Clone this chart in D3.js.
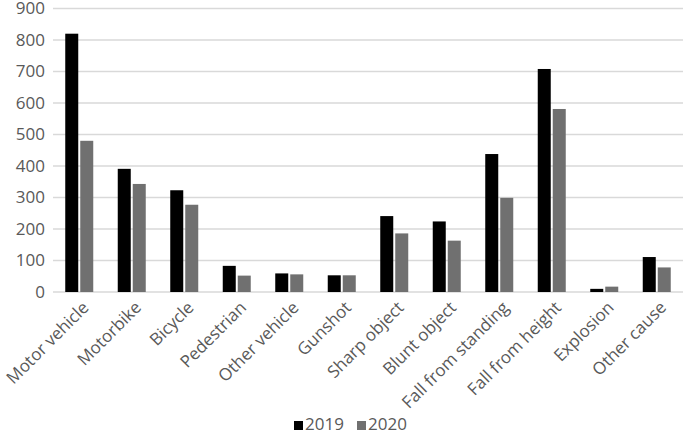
<!DOCTYPE html>
<html>
<head>
<meta charset="utf-8">
<script src="https://cdn.jsdelivr.net/npm/d3@7/dist/d3.min.js"></script>
<style>
  html, body { margin: 0; padding: 0; background: #fff; }
  svg { display: block; }
  text { font-family: "Open Sans", sans-serif; fill: #595959; }
</style>
</head>
<body>
<svg id="chart" width="685" height="433"></svg>
<script>
const categories = ["Motor vehicle", "Motorbike", "Bicycle", "Pedestrian", "Other vehicle", "Gunshot", "Sharp object", "Blunt object", "Fall from standing", "Fall from height", "Explosion", "Other cause"];
const series2019 = [820, 391, 323, 83, 59, 53, 241, 224, 438, 708, 10, 111];
const series2020 = [480, 343, 277, 52, 56, 53, 186, 163, 299, 581, 17, 78];
const yTicks = [0, 100, 200, 300, 400, 500, 600, 700, 800, 900];
const seriesNames = ["2019", "2020"];
const seriesColors = ["#000000", "#707070"];

const svg = d3.select("#chart");
const plot = { left: 53, right: 683, top: 8.5, bottom: 292 };

const x = d3.scaleBand().domain(categories).range([plot.left, plot.right]).padding(0);
const y = d3.scaleLinear().domain([0, 900]).range([plot.bottom, plot.top]);

// gridlines
svg.append("g").selectAll("line").data(yTicks).join("line")
  .attr("x1", plot.left).attr("x2", plot.right)
  .attr("y1", d => y(d)).attr("y2", d => y(d))
  .attr("stroke", "#d9d9d9").attr("stroke-width", 1.5);

// y axis labels
const yAxis = d3.axisLeft(y).tickValues(yTicks).tickSize(0).tickPadding(8);
const gy = svg.append("g").attr("transform", `translate(${plot.left},0)`).call(yAxis);
gy.select(".domain").remove();
gy.selectAll("text").style("font-size", "17px").attr("fill", "#595959").style("font-family", "'Open Sans', sans-serif");

// bars
const data = [series2019, series2020];
const bw = 13, gap = 2;
data.forEach((vals, si) => {
  svg.append("g").selectAll("rect").data(vals).join("rect")
    .attr("x", (d, i) => x(categories[i]) + x.bandwidth() / 2 + (si === 0 ? -(bw + gap / 2) : gap / 2))
    .attr("width", bw)
    .attr("y", d => y(d))
    .attr("height", d => y(0) - y(d))
    .attr("fill", seriesColors[si]);
});

// x axis labels
const xAxis = d3.axisBottom(x).tickSize(0).tickPadding(0);
const gx = svg.append("g").attr("transform", `translate(0,${plot.bottom})`).call(xAxis);
gx.select(".domain").remove();
gx.selectAll("text")
  .style("font-size", "17px").attr("fill", "#595959").style("font-family", "'Open Sans', sans-serif")
  .attr("text-anchor", "end")
  .attr("dy", "0.8em")
  .attr("transform", "translate(1,7) rotate(-45)");

// legend
const legend = svg.append("g");
const legX = [294, 357];
seriesNames.forEach((n, i) => {
  legend.append("rect").attr("x", legX[i]).attr("y", 421).attr("width", 9).attr("height", 9).attr("fill", seriesColors[i]);
  legend.append("text").attr("x", legX[i] + 11).attr("y", 430).style("font-size", "17px").text(n);
});
</script>
</body>
</html>
